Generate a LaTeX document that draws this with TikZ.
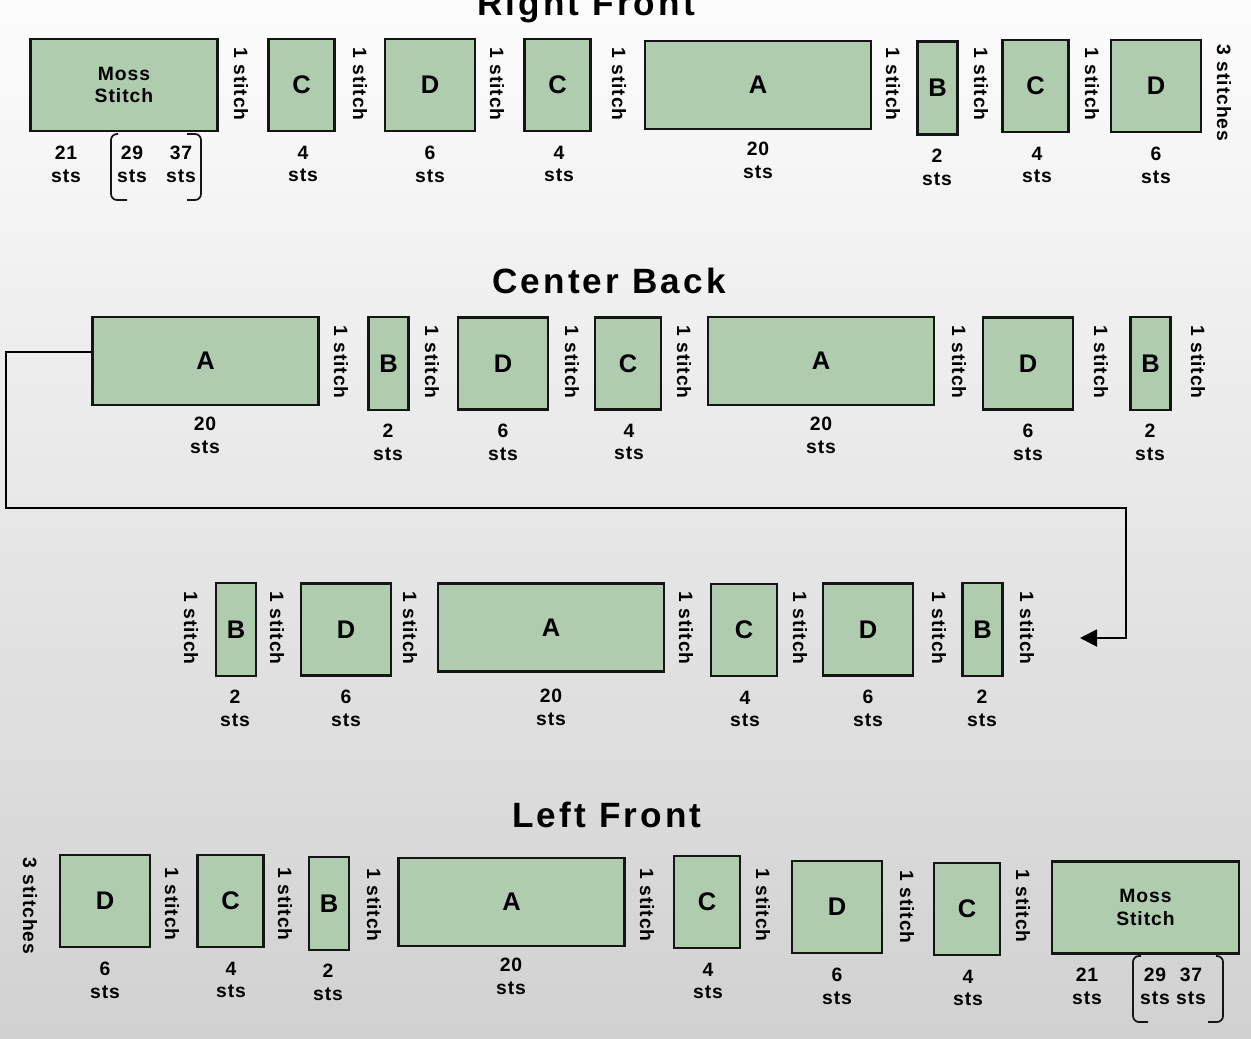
\documentclass[tikz,border=0pt]{standalone}
\usepackage{fontspec}
\setmainfont{Liberation Sans}[LetterSpace=5]
\newfontfamily\titlefont{Liberation Sans}[LetterSpace=9]
\usetikzlibrary{arrows.meta}
\definecolor{patfill}{HTML}{AFCCAF}
\definecolor{patline}{HTML}{151515}

\begin{document}
\begin{tikzpicture}[x=0.02cm, y=-0.02cm,
  blk/.style={draw=patline, fill=patfill, line width=1.5pt, inner sep=0pt, font=\fontsize{14.5}{16}\selectfont\bfseries},
  blkA/.style={blk, minimum width=4.52cm, minimum height=1.76cm},
  blkB/.style={blk, minimum width=0.8cm, minimum height=1.86cm},
  blkC/.style={blk, minimum width=1.32cm, minimum height=1.84cm},
  blkD/.style={blk, minimum width=1.8cm, minimum height=1.84cm},
  blkM/.style={blk, minimum width=3.74cm, minimum height=1.84cm, align=center, font=\fontsize{11}{13}\selectfont\bfseries},
  stlab/.style={rotate=-90, inner sep=0pt, font=\fontsize{11}{13}\selectfont\bfseries},
  cnt/.style={align=center, inner sep=0pt, font=\fontsize{11}{13}\selectfont\bfseries},
  ttl/.style={anchor=base, inner sep=0pt, font=\titlefont\fontsize{20}{24}\selectfont\bfseries},
  brk/.style={draw=patline, line width=1pt, rounded corners=0.12cm}]
\useasboundingbox (0,0) rectangle (1251,1038);
\fill[top color=black!1, middle color=black!7, bottom color=black!18] (0,0) rectangle (1251,1038);

% right front
\node[ttl] (rfT) at (586,15) {Right Front};
\node[blkM] (rfM) at (124,85) {Moss\\Stitch};
\node[blkC] (rfC1) at (301.5,85) {C};
\node[blkD] (rfD1) at (430,85) {D};
\node[blkC] (rfC2) at (557.5,85) {C};
\node[blkA] (rfA) at (758,85) {A};
\node[blkB] (rfB) at (937.5,88) {B};
\node[blkC] (rfC3) at (1035.5,86) {C};
\node[blkD] (rfD2) at (1156,86) {D};
\node[stlab] (rfS1) at (241,84) {1 stitch};
\node[stlab] (rfS2) at (360,84) {1 stitch};
\node[stlab] (rfS3) at (497,84) {1 stitch};
\node[stlab] (rfS4) at (619,84) {1 stitch};
\node[stlab] (rfS5) at (893,84) {1 stitch};
\node[stlab] (rfS6) at (981,84) {1 stitch};
\node[stlab] (rfS7) at (1092,84) {1 stitch};
\node[stlab] (rfS8) at (1224,93) {3 stitches};
\node[cnt] (rfN1) at (66,164) {21\\sts};
\node[cnt] (rfN2) at (132,164) {29\\sts};
\node[cnt] (rfN3) at (181,164) {37\\sts};
\node[cnt] (rfN4) at (303,164) {4\\sts};
\node[cnt] (rfN5) at (430,164) {6\\sts};
\node[cnt] (rfN6) at (559,164) {4\\sts};
\node[cnt] (rfN7) at (758,160) {20\\sts};
\node[cnt] (rfN8) at (937,167) {2\\sts};
\node[cnt] (rfN9) at (1037,165) {4\\sts};
\node[cnt] (rfN10) at (1156,165) {6\\sts};
\draw[brk] (118,134) -- (111,134) -- (111,200) -- (127,200);
\draw[brk] (187,134) -- (201,134) -- (201,200) -- (187,200);

% center back
\node[ttl] (cbT) at (609,293) {Center Back};
\node[blkA] (cbA1) at (205.5,361) {A};
\node[blkB] (cbB1) at (388.5,363.5) {B};
\node[blkD] (cbD1) at (503,363.5) {D};
\node[blkC] (cbC1) at (628,363.5) {C};
\node[blkA] (cbA2) at (821,361) {A};
\node[blkD] (cbD2) at (1028,363.5) {D};
\node[blkB] (cbB2) at (1150.5,363.5) {B};
\node[stlab] (cbS1) at (341,362) {1 stitch};
\node[stlab] (cbS2) at (432,362) {1 stitch};
\node[stlab] (cbS3) at (572,362) {1 stitch};
\node[stlab] (cbS4) at (684,362) {1 stitch};
\node[stlab] (cbS5) at (959,362) {1 stitch};
\node[stlab] (cbS6) at (1101,362) {1 stitch};
\node[stlab] (cbS7) at (1198,362) {1 stitch};
\node[cnt] (cbN1) at (205,435) {20\\sts};
\node[cnt] (cbN2) at (388,442) {2\\sts};
\node[cnt] (cbN3) at (503,442) {6\\sts};
\node[cnt] (cbN4) at (629,442) {4\\sts};
\node[cnt] (cbN5) at (821,435) {20\\sts};
\node[cnt] (cbN6) at (1028,442) {6\\sts};
\node[cnt] (cbN7) at (1150,442) {2\\sts};

% center back, second half
\node[blkB] (ckB1) at (236,629.5) {B};
\node[blkD] (ckD1) at (346,629.5) {D};
\node[blkA] (ckA) at (551,627.5) {A};
\node[blkC] (ckC) at (744,630) {C};
\node[blkD] (ckD2) at (868,629.5) {D};
\node[blkB] (ckB2) at (982.5,629.5) {B};
\node[stlab] (ckS1) at (191,628) {1 stitch};
\node[stlab] (ckS2) at (277,628) {1 stitch};
\node[stlab] (ckS3) at (410,628) {1 stitch};
\node[stlab] (ckS4) at (686,628) {1 stitch};
\node[stlab] (ckS5) at (800,628) {1 stitch};
\node[stlab] (ckS6) at (939,628) {1 stitch};
\node[stlab] (ckS7) at (1027,628) {1 stitch};
\node[cnt] (ckN1) at (235,708) {2\\sts};
\node[cnt] (ckN2) at (346,708) {6\\sts};
\node[cnt] (ckN3) at (551,707) {20\\sts};
\node[cnt] (ckN4) at (745,709) {4\\sts};
\node[cnt] (ckN5) at (868,708) {6\\sts};
\node[cnt] (ckN6) at (982,708) {2\\sts};
\coordinate (ckTip) at (1080,638);
\draw[line width=1.1pt, -{Triangle[length=0.34cm, width=0.34cm]}] ([yshift=0.18cm]cbA1.west) -| (6,508) -| (1126,638) -- (ckTip);

% left front
\node[ttl] (lfT) at (607,827) {Left Front};
\node[blkD] (lfD1) at (105,901) {D};
\node[blkC] (lfC1) at (230.5,901) {C};
\node[blkB] (lfB) at (329,903.5) {B};
\node[blkA] (lfA) at (511.5,902) {A};
\node[blkC] (lfC2) at (707,902) {C};
\node[blkD] (lfD2) at (837,907) {D};
\node[blkC] (lfC3) at (967,909) {C};
\node[blkM] (lfM) at (1145.5,907.5) {Moss\\Stitch};
\node[stlab] (lfS1) at (30,906) {3 stitches};
\node[stlab] (lfS2) at (172,904) {1 stitch};
\node[stlab] (lfS3) at (285,904) {1 stitch};
\node[stlab] (lfS4) at (374,905) {1 stitch};
\node[stlab] (lfS5) at (647,905) {1 stitch};
\node[stlab] (lfS6) at (763,905) {1 stitch};
\node[stlab] (lfS7) at (907,907) {1 stitch};
\node[stlab] (lfS8) at (1023,906) {1 stitch};
\node[cnt] (lfN1) at (105,980) {6\\sts};
\node[cnt] (lfN2) at (231,980) {4\\sts};
\node[cnt] (lfN3) at (328,982) {2\\sts};
\node[cnt] (lfN4) at (511,976) {20\\sts};
\node[cnt] (lfN5) at (708,981) {4\\sts};
\node[cnt] (lfN6) at (837,986) {6\\sts};
\node[cnt] (lfN7) at (968,988) {4\\sts};
\node[cnt] (lfN8) at (1087,986) {21\\sts};
\node[cnt] (lfN9) at (1155,986) {29\\sts};
\node[cnt] (lfN10) at (1191,986) {37\\sts};
\draw[brk] (1141,956) -- (1133,956) -- (1133,1022) -- (1148,1022);
\draw[brk] (1216,956) -- (1223,956) -- (1223,1022) -- (1208,1022);
\end{tikzpicture}
\end{document}
